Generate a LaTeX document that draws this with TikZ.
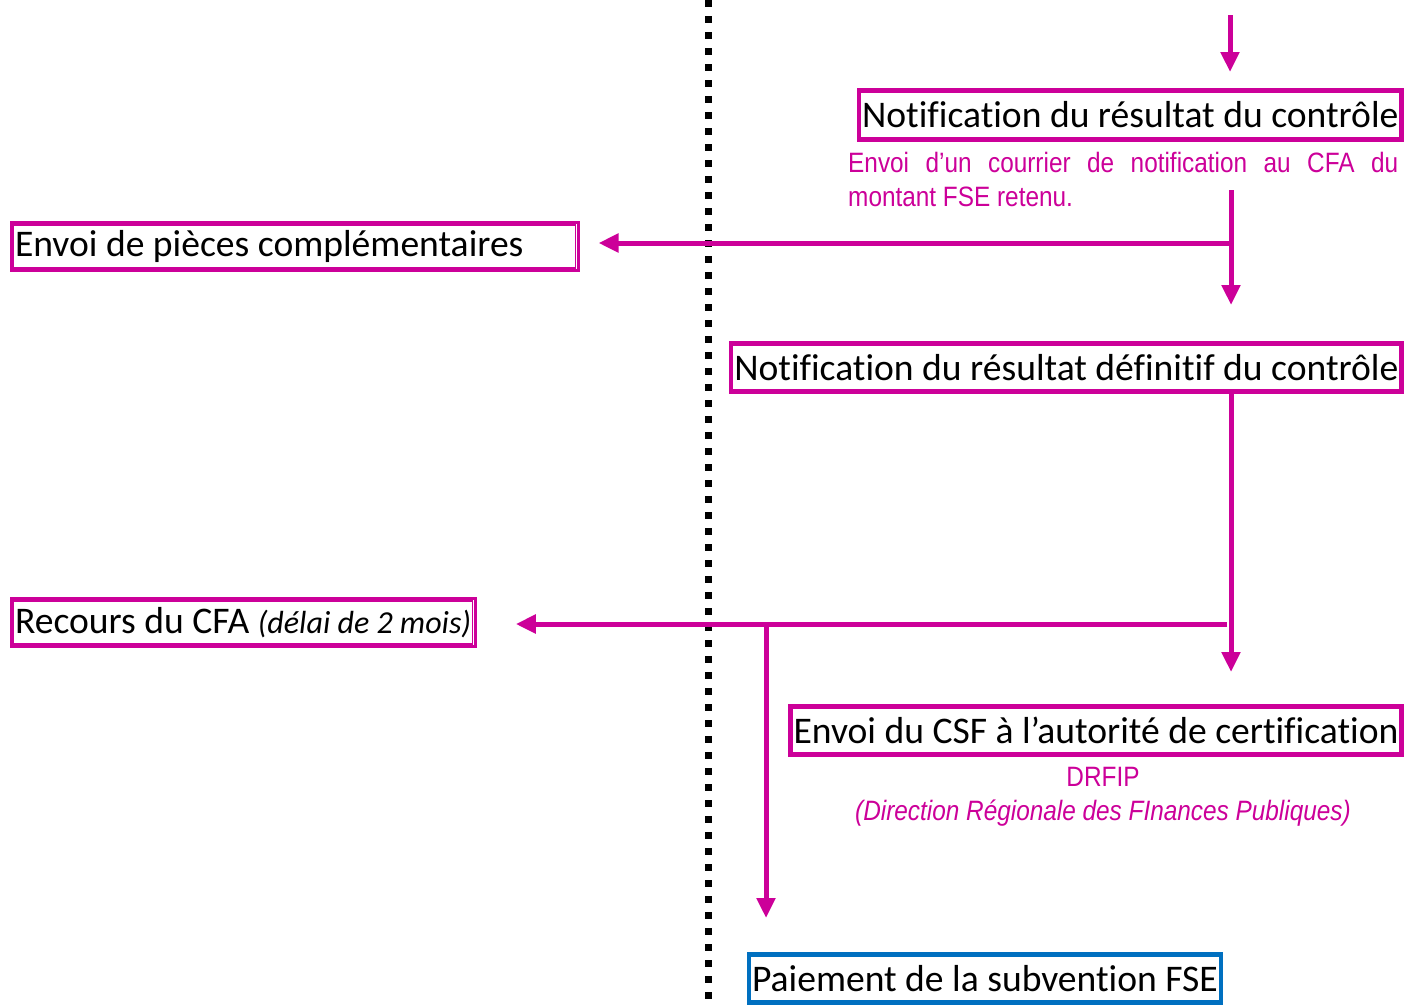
\documentclass[tikz,border=0pt]{standalone}
\usepackage{fontspec}
\setmainfont[Ligatures=NoCommon]{Carlito}
\newfontfamily\narrowfont[FakeStretch=0.87]{Liberation Sans}
\usetikzlibrary{arrows.meta}
\definecolor{mag}{RGB}{204,0,153}
\definecolor{payblue}{RGB}{0,112,192}
\newcommand{\boxfont}{\fontsize{37.6}{44}\selectfont}
\newcommand{\notefont}{\narrowfont\fontsize{28}{34}\selectfont\hyphenpenalty=10000 \exhyphenpenalty=10000 }
\begin{document}
\begin{tikzpicture}[x=1pt, y=-1pt,
  box/.style={draw=mag, line width=3, inner xsep=4, inner ysep=0, minimum height=50, font=\boxfont,
    append after command={\pgfextra{\draw[line width=1.1, draw=#1]
      ([xshift=4,yshift=-4]\tikzlastnode.north west) rectangle ([xshift=-4,yshift=4]\tikzlastnode.south east);}}},
  box/.default=mag,
  flow/.style={draw=mag, line width=5, -{Triangle[width=18,length=20]}},
  note/.style={text=mag, font=\notefont, inner sep=0},
  sep/.style={draw=black, line width=7, dash pattern=on 7 off 9}]
\useasboundingbox (0,0) rectangle (1404,1005);

% separator
\coordinate (sepT) at (708,0);
\coordinate (sepB) at (708,1005);
\draw[sep] (sepT) -- (sepB);

% boxes
\node[box, anchor=east, minimum height=51] (notif) at (1404,115) {Notification du résultat du contrôle};
\node[box, anchor=west, text width=559, align=flush left, minimum height=48] (pieces) at (9.5,246.5) {Envoi de pièces complémentaires};
\node[box, anchor=east] (defin) at (1404,367.5) {Notification du résultat définitif du contrôle};
\node[box, anchor=west, minimum height=48] (recours) at (9.5,622.5) {Recours du CFA {\fontsize{32}{36}\selectfont\itshape (délai de 2 mois)}};
\node[box, anchor=east] (csf) at (1404,730.5) {Envoi du CSF à l’autorité de certification};
\node[box=payblue, draw=payblue, anchor=west] (pay) at (746.5,978.5) {Paiement de la subvention FSE};

% notes
\node[note, anchor=north west, text width=550, align=justify] (courrier) at (848,152) {Envoi d’un courrier de notification au CFA du montant FSE retenu.};
\node[note, align=center] (drfip) at (1103,797) {DRFIP\\\textit{(Direction Régionale des FInances Publiques)}};

% connectors
\coordinate (entry) at (1230,15);
\coordinate (down1) at (1231,190);
\coordinate (split1) at (1231,243);
\coordinate (split2) at (1227,624);
\coordinate (split3) at (766,624);

\draw[flow] (entry) -- ([yshift=16]entry |- notif.north);
\draw[flow] (down1) -- ([yshift=36]down1 |- defin.north);
\draw[flow] (split1) -- ([xshift=19]pieces.east |- split1);
\draw[flow] (down1 |- defin.south) -- ([yshift=32]down1 |- csf.north);
\draw[flow] (split2) -- ([xshift=39]recours.east |- split2);
\draw[flow] (split3) -- ([yshift=34]split3 |- pay.north);
\end{tikzpicture}
\end{document}
